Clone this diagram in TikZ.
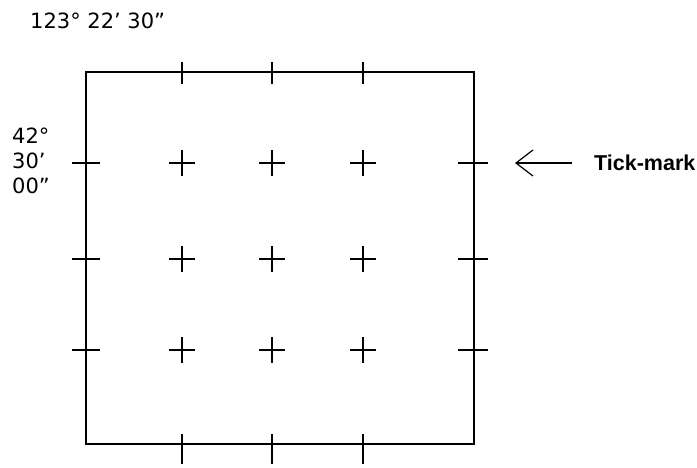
\documentclass[tikz,border=0pt]{standalone}
\usepackage{fontspec}
\setmainfont{DejaVu Sans}
\newfontfamily\lblfont{Liberation Sans}
\usetikzlibrary{arrows.meta}
\begin{document}
\begin{tikzpicture}[x=1pt,y=-1pt,
  ln/.style={line width=1.6pt,black},
  tick/.style={line width=1.6pt,black},
  lbl/.style={inner sep=0pt,font=\fontsize{21}{25}\selectfont},
  ptr/.style={line width=1.2pt,-{Straight Barb[length=17pt,width=26pt,line width=1.2pt]}}]
\useasboundingbox (0,0) rectangle (697,467);
\fill[white] (0,0) rectangle (697,467);
% frame
\coordinate (nw) at (86,72);
\coordinate (se) at (474,444);
\draw[ln] (nw) rectangle (se);
% top and bottom edge ticks
\foreach \x in {182,272,363}{
  \draw[tick] (\x,62) -- (\x,84);
  \draw[tick] (\x,434) -- (\x,464);
}
% side ticks
\foreach \y in {163,259,350}{
  \draw[tick] (72,\y) -- (100,\y);
  \draw[tick] (458,\y) -- (488,\y);
}
% interior crosses
\foreach \x in {182,272,363}{
  \foreach \y in {163,259,350}{
    \draw[tick] (\x-13,\y) -- (\x+13,\y);
    \draw[tick] (\x,\y-13) -- (\x,\y+13);
  }
}
% labels
\node[lbl,anchor=west] (lon) at (30,21) {123° 22' 30”};
\node[lbl,anchor=west,align=left] (lat) at (12,161) {42°\\30'\\00”};
\node[anchor=west,inner sep=0pt,font=\lblfont\bfseries\fontsize{21.5}{25}\selectfont] (tm) at (594,163) {Tick-mark};
\coordinate (tip) at (515,163);
\draw[ptr] (572,163) -- (tip);
\end{tikzpicture}
\end{document}
